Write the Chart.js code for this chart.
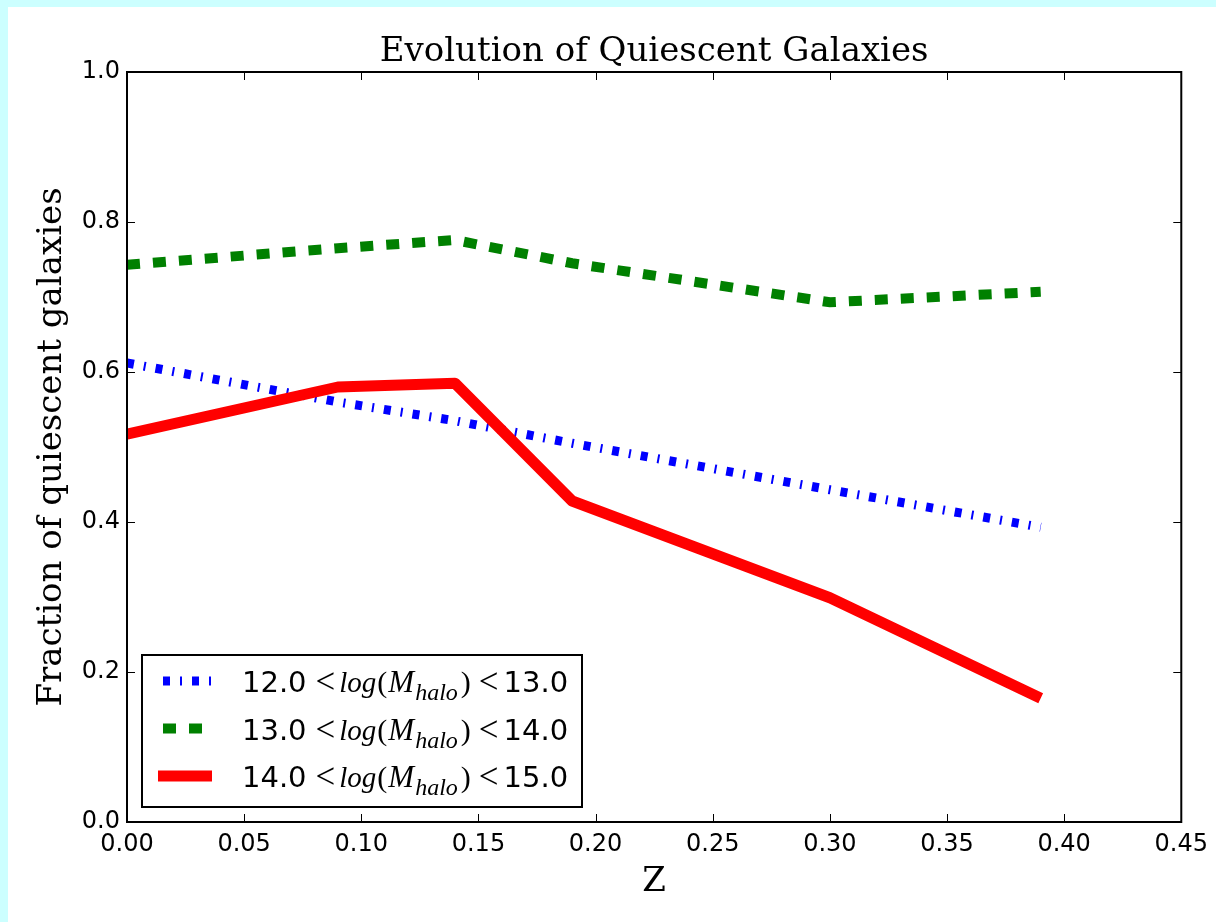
<!DOCTYPE html>
<html>
<head>
<meta charset="utf-8">
<script src="https://cdn.jsdelivr.net/npm/chart.js@4.4.1/dist/chart.umd.min.js"></script>
<style>
  html, body { margin: 0; padding: 0; background: #ccffff; }
  #frame { position: absolute; left: 8px; top: 7px; width: 1208px; height: 915px; background: #fff; }
  canvas { display: block; }
</style>
</head>
<body>
<div id="frame"><canvas id="chart" width="1208" height="915"></canvas></div>
<script>
// redshift bins
const zValues = [0.00, 0.09, 0.14, 0.19, 0.30, 0.39];

// quiescent fraction per halo mass bin
const lowMass = [0.612, 0.560, 0.535, 0.505, 0.443, 0.393];
const midMass = [0.743, 0.765, 0.776, 0.745, 0.693, 0.707];
const highMass = [0.517, 0.580, 0.585, 0.428, 0.299, 0.165];

const massRanges = [["12.0", "13.0"], ["13.0", "14.0"], ["14.0", "15.0"]];

const xTicks = [0, 0.05, 0.10, 0.15, 0.20, 0.25, 0.30, 0.35, 0.40, 0.45];
const yTicks = [0, 0.2, 0.4, 0.6, 0.8, 1.0];

function toPoints(values) {
    return zValues.map(function (z, i) {
        return { x: z, y: values[i] };
    });
}

// mathtext style label: 12.0 <log(M_halo)< 13.0, laid out piece by piece
function drawMassLabel(ctx, x, y, lo, hi) {
    const parts = [
        { t: lo, f: "29px 'DejaVu Sans'", gap: 9 },
        { t: "<", f: "35px 'Liberation Serif'", gap: 4, dy: 1 },
        { t: "log", f: "italic 29px 'Liberation Serif'", gap: 1 },
        { t: "(", f: "30px 'Liberation Serif'", gap: 1 },
        { t: "M", f: "italic 31px 'Liberation Serif'", gap: 1 },
        { t: "halo", f: "italic 24px 'Liberation Serif'", gap: 3, dy: 8 },
        { t: ")", f: "30px 'Liberation Serif'", gap: 8 },
        { t: "<", f: "35px 'Liberation Serif'", gap: 5, dy: 1 },
        { t: hi, f: "29px 'DejaVu Sans'", gap: 0 }
    ];
    ctx.textBaseline = "alphabetic";
    ctx.textAlign = "left";
    let cx = x;
    parts.forEach(function (p) {
        ctx.font = p.f;
        ctx.fillText(p.t, cx, y + (p.dy || 0));
        cx += ctx.measureText(p.t).width + p.gap;
    });
}

const decorations = {
    id: "decorations",
    afterDraw: function (chart) {
        const ctx = chart.ctx;
        const a = chart.chartArea;
        const xs = chart.scales.x;
        const ys = chart.scales.y;

        ctx.save();
        ctx.strokeStyle = "#000";
        ctx.fillStyle = "#000";

        // inward ticks on all four sides
        ctx.lineWidth = 1;
        ctx.beginPath();
        xTicks.forEach(function (v) {
            const px = Math.round(xs.getPixelForValue(v)) + 0.5;
            ctx.moveTo(px, a.bottom);
            ctx.lineTo(px, a.bottom - 8);
            ctx.moveTo(px, a.top);
            ctx.lineTo(px, a.top + 8);
        });
        yTicks.forEach(function (v) {
            const py = Math.round(ys.getPixelForValue(v)) + 0.5;
            ctx.moveTo(a.left, py);
            ctx.lineTo(a.left + 8, py);
            ctx.moveTo(a.right, py);
            ctx.lineTo(a.right - 8, py);
        });
        ctx.stroke();

        ctx.lineWidth = 2;
        ctx.strokeRect(a.left, a.top, a.right - a.left, a.bottom - a.top);

        // titles
        ctx.textAlign = "center";
        ctx.textBaseline = "middle";
        ctx.font = "34px 'DejaVu Serif'";
        ctx.fillText("Evolution of Quiescent Galaxies", (a.left + a.right) / 2, a.top - 20);
        ctx.fillText("Z", (a.left + a.right) / 2, a.bottom + 60);

        ctx.save();
        ctx.translate(44, (a.top + a.bottom) / 2);
        ctx.rotate(-Math.PI / 2);
        ctx.fillText("Fraction of quiescent galaxies", 0, 0);
        ctx.restore();

        // legend, lower left
        const lx = a.left + 15;
        const lh = 152;
        const ly = a.bottom - 15 - lh;
        const lw = 440;
        ctx.fillStyle = "#fff";
        ctx.fillRect(lx, ly, lw, lh);
        ctx.lineWidth = 2;
        ctx.strokeRect(lx, ly, lw, lh);

        chart.data.datasets.forEach(function (ds, i) {
            const rowY = ly + 26 + i * 47.5;
            ctx.save();
            ctx.strokeStyle = ds.borderColor;
            ctx.lineWidth = ds.borderWidth;
            ctx.lineCap = "butt";
            const dash = ds.borderDash || [];
            ctx.setLineDash(dash);
            if (dash.length) {
                const total = dash.reduce(function (s, d) { return s + d; }, 0);
                ctx.lineDashOffset = total - 5;
            }
            ctx.beginPath();
            ctx.moveTo(lx + 16, rowY);
            ctx.lineTo(lx + 70, rowY);
            ctx.stroke();
            ctx.restore();

            ctx.fillStyle = "#000";
            drawMassLabel(ctx, lx + 100, rowY + 11, massRanges[i][0], massRanges[i][1]);
        });

        ctx.restore();
    }
};

new Chart(document.getElementById("chart"), {
    type: "line",
    data: {
        datasets: [
            {
                label: "12.0 < log(M_halo) < 13.0",
                data: toPoints(lowMass),
                borderColor: "#0000ff",
                borderWidth: 9,
                borderDash: [7, 10, 2, 10],
                borderCapStyle: "butt",
                order: 2
            },
            {
                label: "13.0 < log(M_halo) < 14.0",
                data: toPoints(midMass),
                borderColor: "#008000",
                borderWidth: 10,
                borderDash: [13, 13],
                borderCapStyle: "butt",
                order: 1
            },
            {
                label: "14.0 < log(M_halo) < 15.0",
                data: toPoints(highMass),
                borderColor: "#ff0000",
                borderWidth: 11,
                borderCapStyle: "butt",
                borderJoinStyle: "round",
                order: 0
            }
        ]
    },
    options: {
        responsive: false,
        animation: false,
        devicePixelRatio: 1,
        layout: {
            padding: { left: 0, top: 65, right: 34, bottom: 0 }
        },
        elements: {
            point: { radius: 0, hoverRadius: 0 },
            line: { tension: 0 }
        },
        plugins: {
            legend: { display: false },
            title: { display: false },
            tooltip: { enabled: false }
        },
        scales: {
            x: {
                type: "linear",
                min: 0,
                max: 0.45,
                afterBuildTicks: function (scale) {
                    scale.ticks = xTicks.map(function (v) { return { value: v }; });
                },
                afterFit: function (scale) {
                    scale.height = 100;
                },
                ticks: {
                    color: "#000",
                    font: { family: "DejaVu Sans", size: 24 },
                    padding: 8,
                    maxRotation: 0,
                    autoSkip: false,
                    callback: function (value) {
                        return Number(value).toFixed(2);
                    }
                },
                grid: { display: false, drawTicks: false },
                border: { display: false }
            },
            y: {
                min: 0,
                max: 1,
                afterBuildTicks: function (scale) {
                    scale.ticks = yTicks.map(function (v) { return { value: v }; });
                },
                afterFit: function (scale) {
                    scale.width = 119;
                },
                ticks: {
                    color: "#000",
                    font: { family: "DejaVu Sans", size: 24 },
                    padding: 7,
                    autoSkip: false,
                    callback: function (value) {
                        return Number(value).toFixed(1);
                    }
                },
                grid: { display: false, drawTicks: false },
                border: { display: false }
            }
        }
    },
    plugins: [decorations]
});
</script>
</body>
</html>
